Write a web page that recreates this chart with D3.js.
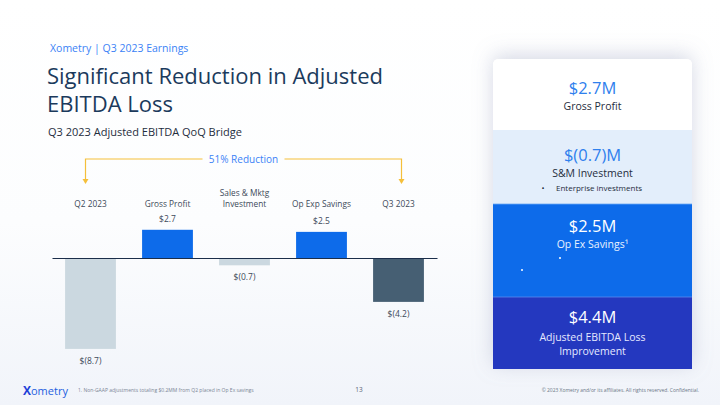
<!DOCTYPE html>
<html><head><meta charset="utf-8">
<script src="https://cdn.jsdelivr.net/npm/d3@7"></script>
<style>html,body{margin:0;padding:0;background:#fff;}svg{display:block;font-family:"Open Sans",sans-serif;}</style>
</head><body>
<script>
const categories = ["Q2 2023","Gross Profit","Sales & Mktg Investment","Op Exp Savings","Q3 2023"];
const categoryLines = [["Q2 2023"],["Gross Profit"],["Sales & Mktg","Investment"],["Op Exp Savings"],["Q3 2023"]];
const values = [-8.7, 2.7, -0.7, 2.5, -4.2];
const valueLabels = ["$(8.7)","$2.7","$(0.7)","$2.5","$(4.2)"];
const barKinds = ["total","gain","loss","gain","end"];
const reductionLabel = "51% Reduction";
const cardValues = ["$2.7M","$(0.7)M","$2.5M","$4.4M"];
const cardTitles = [["Gross Profit"],["S&M Investment"],["Op Ex Savings\u00b9"],["Adjusted EBITDA Loss","Improvement"]];
const cardBullets = [[],["Enterprise investments"],[],[]];

const W=720,H=405;
const svg=d3.select("body").append("svg").attr("width",W).attr("height",H);
const defs=svg.append("defs");
const bg=defs.append("linearGradient").attr("id","bg").attr("x1",0).attr("y1",0).attr("x2",0).attr("y2",1);
bg.append("stop").attr("offset","0%").attr("stop-color","#ffffff");
bg.append("stop").attr("offset","55%").attr("stop-color","#fcfdfe");
bg.append("stop").attr("offset","100%").attr("stop-color","#f1f4fa");
svg.append("rect").attr("width",W).attr("height",H).attr("fill","url(#bg)");
const sh=defs.append("filter").attr("id","sh").attr("x","-30%").attr("y","-30%").attr("width","160%").attr("height","160%");
sh.append("feGaussianBlur").attr("in","SourceAlpha").attr("stdDeviation",10).attr("result","b");
sh.append("feOffset").attr("in","b").attr("dy",-4).attr("result","o");
sh.append("feFlood").attr("flood-color","#8a93b5").attr("flood-opacity",0.35);
sh.append("feComposite").attr("in2","o").attr("operator","in").attr("result","s");
const m=sh.append("feMerge");m.append("feMergeNode").attr("in","s");m.append("feMergeNode").attr("in","SourceGraphic");

// Header
svg.append("text").attr("x",50).attr("y",52).attr("font-size",10.5).attr("fill","#3b82f6").text("Xometry | Q3 2023 Earnings");
svg.append("text").attr("x",47).attr("y",84).attr("font-size",22).attr("fill","#1b3a5c").text("Significant Reduction in Adjusted");
svg.append("text").attr("x",47).attr("y",112).attr("font-size",22).attr("fill","#1b3a5c").text("EBITDA Loss");
svg.append("text").attr("x",48).attr("y",136).attr("font-size",11).attr("fill","#1f2d3d").text("Q3 2023 Adjusted EBITDA QoQ Bridge");

// Chart
const x=d3.scaleBand().domain(categories).range([52,437]).paddingInner(0.34).paddingOuter(0.17);
const y=d3.scaleLinear().domain([-9,3]).range([258+9*10.45,258-3*10.45]);
const colors={total:"#cbd8e0",gain:"#0d6bea",loss:"#cbd8e0",end:"#465f73"};
const data=categories.map((c,i)=>({c,v:values[i],lab:valueLabels[i],k:barKinds[i],lines:categoryLines[i]}));
const g=svg.append("g");
g.selectAll("rect.bar").data(data).join("rect").attr("class","bar")
 .attr("x",d=>x(d.c)).attr("width",x.bandwidth())
 .attr("y",d=>Math.min(y(0),y(d.v))).attr("height",d=>Math.abs(y(d.v)-y(0)))
 .attr("fill",d=>colors[d.k]);
const axis=g.append("g").attr("transform",`translate(0,${y(0)})`).call(d3.axisBottom(x).tickSize(0).tickFormat(""));
axis.select(".domain").attr("stroke","#1b2e4a").attr("stroke-width",1.2);
g.selectAll("text.val").data(data).join("text").attr("class","val")
 .attr("x",d=>x(d.c)+x.bandwidth()/2).attr("y",d=>d.v>=0?y(d.v)-8:y(d.v)+15)
 .attr("text-anchor","middle").attr("font-size",8.5).attr("fill","#3d4a5a").text(d=>d.lab);
data.forEach(d=>{
  const n=d.lines.length;
  d.lines.forEach((t,j)=>{
    g.append("text").attr("x",x(d.c)+x.bandwidth()/2).attr("y",207-(n-1-j)*11)
     .attr("text-anchor","middle").attr("font-size",8.3).attr("fill","#3d4a5a").text(t);
  });
});
// Bracket
const xa=x(categories[0])+x.bandwidth()/2-5, xb=x(categories[4])+x.bandwidth()/2+3;
const by=159, tx=(xa+xb)/2;
const gold="#f5bf3a";
svg.append("path").attr("d",`M${xa},180 V${by} H${tx-41}`).attr("fill","none").attr("stroke",gold).attr("stroke-width",1.2);
svg.append("path").attr("d",`M${tx+41},${by} H${xb} V180`).attr("fill","none").attr("stroke",gold).attr("stroke-width",1.2);
[xa,xb].forEach(xx=>svg.append("path").attr("d",`M${xx-3},179 L${xx+3},179 L${xx},184 Z`).attr("fill",gold));
svg.append("text").attr("x",tx).attr("y",163).attr("text-anchor","middle").attr("font-size",10).attr("fill","#3b82f6").text(reductionLabel);

// Card
const cx=493,cw=199;
const secs=[
 {y0:59,y1:130,fill:"#ffffff",vc:"#2f80ed",tc:"#1f2d3d",vy:35,ty:51},
 {y0:130,y1:204,fill:"#e3eefb",vc:"#2f80ed",tc:"#1f2d3d",vy:31,ty:47,by:61},
 {y0:204,y1:297,fill:"#0d6bea",vc:"#ffffff",tc:"#eaf2ff",vy:28,ty:44},
 {y0:297,y1:369,fill:"#2438bf",vc:"#ffffff",tc:"#e6e9ff",vy:26,ty:44}];
const card=svg.append("g");
card.append("path").attr("d",`M${cx},369 V65 Q${cx},59 ${cx+6},59 H${cx+cw-6} Q${cx+cw},59 ${cx+cw},65 V369 Z`).attr("fill","#fff").attr("filter","url(#sh)");
secs.forEach((s,i)=>{
  if(i===0) card.append("path").attr("d",`M${cx},${s.y1} V65 Q${cx},59 ${cx+6},59 H${cx+cw-6} Q${cx+cw},59 ${cx+cw},65 V${s.y1} Z`).attr("fill",s.fill);
  else card.append("rect").attr("x",cx).attr("y",s.y0).attr("width",cw).attr("height",s.y1-s.y0).attr("fill",s.fill);
  const mid=cx+cw/2;
  card.append("text").attr("x",mid).attr("y",s.y0+s.vy).attr("text-anchor","middle").attr("font-size",16.5).attr("fill",s.vc).text(cardValues[i]);
  cardTitles[i].forEach((t,j)=>card.append("text").attr("x",mid).attr("y",s.y0+s.ty+j*14).attr("text-anchor","middle").attr("font-size",10.5).attr("fill",s.tc).text(t));
  cardBullets[i].forEach((t,j)=>{
    card.append("text").attr("x",543).attr("y",s.y0+s.by).attr("text-anchor","middle").attr("font-size",8).attr("fill",s.tc).text("\u2022");
    card.append("text").attr("x",556).attr("y",s.y0+s.by).attr("font-size",8).attr("fill",s.tc).text(t);
  });
});
card.append("line").attr("x1",cx).attr("x2",cx+cw).attr("y1",204).attr("y2",204).attr("stroke","#6aa7f5").attr("stroke-width",0.8);
card.append("line").attr("x1",cx).attr("x2",cx+cw).attr("y1",297).attr("y2",297).attr("stroke","#5b8cf0").attr("stroke-width",0.8);
card.append("circle").attr("cx",560).attr("cy",258).attr("r",1).attr("fill","#fff");
card.append("circle").attr("cx",522).attr("cy",270).attr("r",1).attr("fill","#fff");

// Footer
const lg=svg.append("g");
lg.append("text").attr("x",23).attr("y",395).attr("font-size",12).attr("font-weight",700).attr("fill","#1e3fd8").text("X");
lg.append("text").attr("x",31).attr("y",395).attr("font-size",11).attr("fill","#1e5fe0").text("ometry");
svg.append("text").attr("x",78).attr("y",392).attr("font-size",5).attr("fill","#7a8595").text("1. Non-GAAP adjustments totaling $0.2MM from Q2 placed in Op Ex savings");
svg.append("text").attr("x",359).attr("y",392).attr("text-anchor","middle").attr("font-size",6.5).attr("fill","#5a6575").text("13");
svg.append("text").attr("x",699).attr("y",392).attr("text-anchor","end").attr("font-size",4.95).attr("fill","#6a7585").text("\u00a9 2023 Xometry and/or its affiliates. All rights reserved. Confidential.");
</script>
</body></html>
